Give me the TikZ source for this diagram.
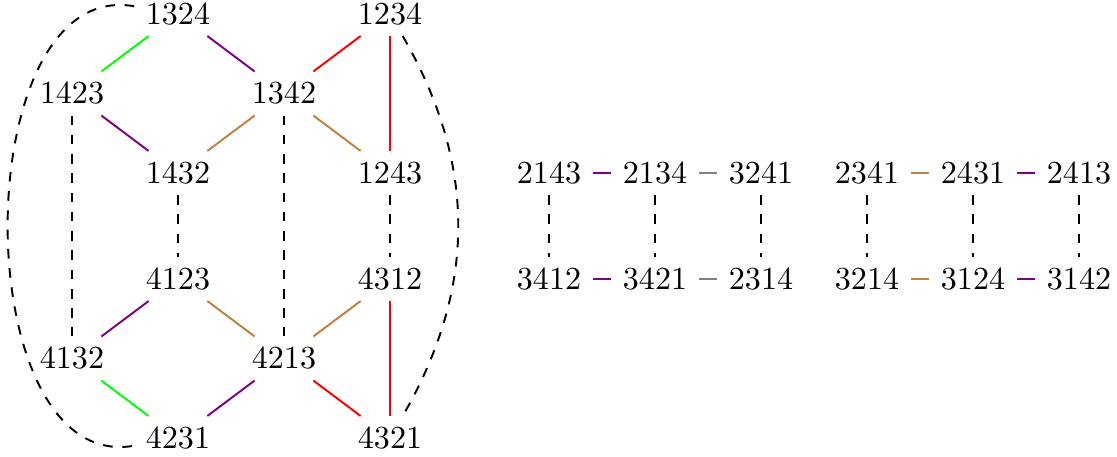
\documentclass[tikz,border=0pt]{standalone}
\usepackage{tikz}

\begin{document}
\begin{tikzpicture}[x=1.16cm,y=1.16cm,semithick]
			\useasboundingbox (-0.679,-4.179) rectangle (9.858,0.132);
			\node (p1324) at (1, 0) {$1324$};
			\node (p1234) at (3, 0) {$1234$};
			\node (p1423) at (0, -0.75) {$1423$};
			\node (p1342) at (2, -0.75) {$1342$};
			\node (p1432) at (1, -1.5) {$1432$};
			\node (p1243) at (3, -1.5) {$1243$};
			\node (p4123) at (1, -2.5) {$4123$};
			\node (p4312) at (3, -2.5) {$4312$};
			\node (p4132) at (0, -3.25) {$4132$};
			\node (p4213) at (2, -3.25) {$4213$};
			\node (p4231) at (1, -4) {$4231$};
			\node (p4321) at (3, -4) {$4321$};
			\draw[green] (p1324) to (p1423);
			\draw[violet] (p1324) to (p1342);
			\draw[red] (p1234) to (p1342);
			\draw[red] (p1234) to (p1243);
			\draw[violet] (p1423) to (p1432);
			\draw[brown] (p1342) to (p1432);
			\draw[brown] (p1342) to (p1243);
			\draw[dashed] (p1423) to (p4132);
			\draw[dashed] (p1342) to (p4213);
			\draw[dashed] (p1432) to (p4123);
			\draw[dashed] (p1243) to (p4312);
			\draw[violet] (p4123) to (p4132);
			\draw[brown] (p4123) to (p4213);
			\draw[brown] (p4312) to (p4213);
			\draw[red] (p4312) to (p4321);
			\draw[green] (p4132) to (p4231);
			\draw[violet] (p4213) to (p4231);
			\draw[red] (p4213) to (p4321);
			\draw[dashed] (p1324) to[out=170, in=190] (p4231);
			\draw[dashed] (p1234) to[out=-60, in=60] (p4321);

			\node (p2143) at (4.5, -1.5) {$2143$};
			\node (p2134) at (5.5, -1.5) {$2134$};
			\node (p3241) at (6.5, -1.5) {$3241$};
			\node (p3412) at (4.5, -2.5) {$3412$};
			\node (p3421) at (5.5, -2.5) {$3421$};
			\node (p2314) at (6.5, -2.5) {$2314$};
			\draw[violet] (p2143) to (p2134);
			\draw[gray] (p2134) to (p3241);
			\draw[violet] (p3412) to (p3421);
			\draw[gray] (p3421) to (p2314);
			\draw[dashed] (p2143) to (p3412);
			\draw[dashed] (p2134) to (p3421);
			\draw[dashed] (p3241) to (p2314);

			\node (p2341) at (7.5, -1.5) {$2341$};
			\node (p2431) at (8.5, -1.5) {$2431$};
			\node (p2413) at (9.5, -1.5) {$2413$};
			\node (p3214) at (7.5, -2.5) {$3214$};
			\node (p3124) at (8.5, -2.5) {$3124$};
			\node (p3142) at (9.5, -2.5) {$3142$};
			\draw[brown] (p2341) to (p2431);
			\draw[violet] (p2431) to (p2413);
			\draw[brown] (p3214) to (p3124);
			\draw[violet] (p3124) to (p3142);
			\draw[dashed] (p2341) to (p3214);
			\draw[dashed] (p2431) to (p3124);
			\draw[dashed] (p2413) to (p3142);
		\end{tikzpicture}
\end{document}
